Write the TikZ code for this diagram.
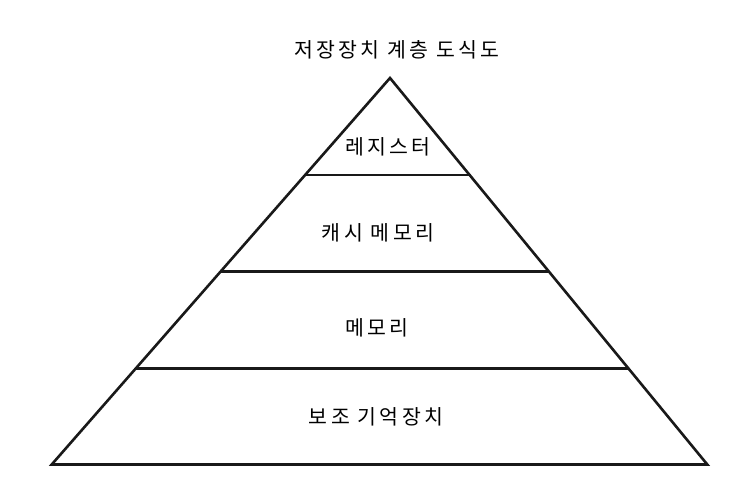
\documentclass[tikz,border=0pt]{standalone}
\usepackage{fontspec}
\newfontfamily\kr[LetterSpace=16]{Noto Sans CJK KR}
\begin{document}
\begin{tikzpicture}[x=1pt,y=-1pt,
  edge/.style={line width=2.6pt, line join=miter, color=black!90},
  lbl/.style={font=\kr\fontsize{20.5}{24}\selectfont, inner sep=0pt, anchor=center}]
\useasboundingbox (0,0) rectangle (754,496);
\coordinate (apex) at (390,78);
\coordinate (bl) at (51.7,464.5);
\coordinate (br) at (707.3,464.5);
\coordinate (l1) at (305.2,175);
\coordinate (r1) at (470.6,175);
\coordinate (l2) at (220.7,271.7);
\coordinate (r2) at (549.2,271.7);
\coordinate (l3) at (136.4,368.3);
\coordinate (r3) at (628.7,368.3);
\draw[edge] (apex) -- (bl) -- (br) -- cycle;
\draw[edge] (l1) -- (r1);
\draw[edge] (l2) -- (r2);
\draw[edge] (l3) -- (r3);
\node[lbl] (title) at (397,50) {저장장치 계층 도식도};
\node[lbl] (t1) at (388,147) {레지스터};
\node[lbl] (t2) at (378,233) {캐시 메모리};
\node[lbl] (t3) at (377,328) {메모리};
\node[lbl] (t4) at (376,417) {보조 기억장치};
\end{tikzpicture}
\end{document}
